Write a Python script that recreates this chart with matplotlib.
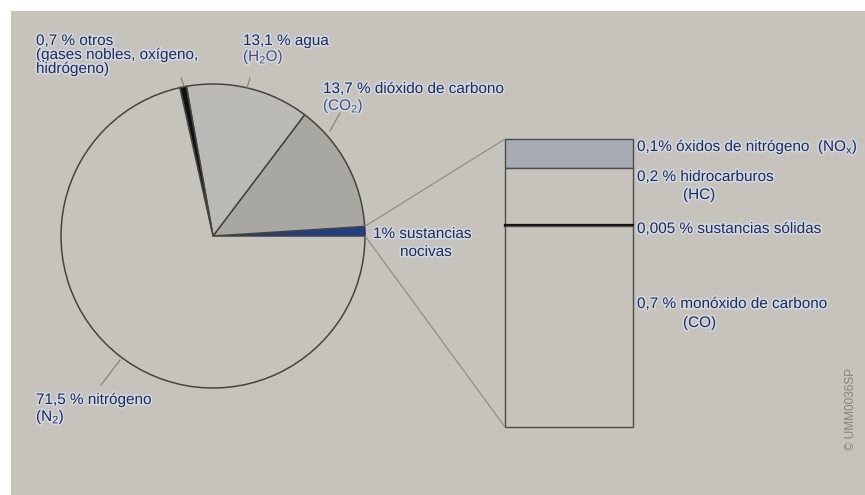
import matplotlib
matplotlib.use("Agg")
import matplotlib.pyplot as plt
import matplotlib.patheffects as pe
from matplotlib.patches import Rectangle, ConnectionPatch
import numpy as np

plt.rcParams["font.family"] = ["Liberation Sans", "DejaVu Sans"]
plt.rcParams["mathtext.fontset"] = "custom"
plt.rcParams["mathtext.rm"] = "Liberation Sans"
plt.rcParams["mathtext.it"] = "Liberation Sans:italic"
plt.rcParams["mathtext.bf"] = "Liberation Sans:bold"

# Composition of the exhaust gas (% by volume), counter-clockwise from 0 degrees
gas_names = ["sustancias nocivas", "dióxido de carbono", "agua", "otros", "nitrógeno"]
gas_shares = [1.0, 13.7, 13.1, 0.7, 71.5]
gas_colors = ["#203f86", "#a9a7a2", "#bbbab6", "#101010", "#c6c3bd"]

# Breakdown of the harmful 1 %, listed from top to bottom of the column
harm_names = ["óxidos de nitrógeno", "hidrocarburos", "sustancias sólidas", "monóxido de carbono"]
harm_shares = [0.1, 0.2, 0.005, 0.7]
harm_colors = ["#a6aab3", "#c6c3bd", "#111111", "#c6c3bd"]

BG = "#c6c3bd"
TXT = "#1d2b5e"
TXT2 = "#44527a"
W, H = 865, 495

fig = plt.figure(figsize=(W / 100, H / 100), dpi=100, facecolor="white")
ax = fig.add_axes([0, 0, 1, 1])
ax.set_facecolor("white")


def P(x, y):
    """Pixel position (top-left origin) -> data coordinates."""
    return x, H - y


# page background with the white scan margin on the top and left
ax.add_patch(Rectangle((11, 0), W - 11, H - 11, facecolor=BG, edgecolor="none", zorder=0))

center = P(213, 236)
radius = 152
wedges, _ = ax.pie(gas_shares, colors=gas_colors, startangle=0, counterclock=True,
                   center=center, radius=radius, frame=True,
                   wedgeprops=dict(edgecolor="#45443f", linewidth=1.1))
wedges[0].set_edgecolor("#1a2f66")
ax.set_xlim(0, W)
ax.set_ylim(0, H)
ax.set_aspect("equal")
ax.axis("off")

halo = [pe.withStroke(linewidth=2.2, foreground="#d3d9df")]
FS = 11.0


def label(x, y, s, color=TXT):
    """One text line; y is the baseline in pixels from the top."""
    ax.text(*P(x, y), s, ha="left", va="baseline", fontsize=FS, color=color,
            path_effects=halo, zorder=5)


def leader(p0, p1):
    (x0, y0), (x1, y1) = P(*p0), P(*p1)
    ax.plot([x0, x1], [y0, y1], color="#7d7c78", lw=0.8, zorder=3)


label(36, 45, "0,7 % otros")
label(36, 59, "(gases nobles, oxígeno,")
label(36, 73, "hidrógeno)")
leader((181, 78), (184, 86))

label(243, 45, "13,1 % agua")
label(243, 61, r"(H$_\mathrm{2}$O)", color=TXT2)
leader((250, 78), (247, 88))

label(323, 93, "13,7 % dióxido de carbono")
label(323, 110, r"(CO$_\mathrm{2}$)", color=TXT2)
leader((340, 113), (330, 131))

label(373, 238, "1% sustancias")
label(400, 256, "nocivas")

label(36, 404, "71,5 % nitrógeno")
label(36, 421, r"(N$_\mathrm{2}$)")
leader((120, 360), (101, 385))

# column with the breakdown of the harmful substances
bx0, by0, bx1, by1 = 505, 139, 633, 427
ax2 = fig.add_axes([bx0 / W, (H - by1) / H, (bx1 - bx0) / W, (by1 - by0) / H])
ax2.axis("off")
total = sum(harm_shares)
bottom = total
for share, col in zip(harm_shares, harm_colors):
    bottom -= share
    thin = share < 0.01
    ax2.bar(0, share, bottom=bottom, width=1.0, color=col,
            edgecolor="#111111" if thin else "#4d4c49",
            linewidth=1.6 if thin else 1.0, clip_on=False, zorder=2)
ax2.set_xlim(-0.5, 0.5)
ax2.set_ylim(0, total)

# connectors from the harmful wedge to the column
a0 = np.deg2rad(0)
a1 = np.deg2rad(gas_shares[0] / 100 * 360)
tip_hi = (center[0] + radius * np.cos(a1), center[1] + radius * np.sin(a1))
tip_lo = (center[0] + radius * np.cos(a0), center[1] + radius * np.sin(a0))
for tip, corner in ((tip_hi, (0, 1)), (tip_lo, (0, 0))):
    con = ConnectionPatch(xyA=tip, coordsA=ax.transData, xyB=corner, coordsB=ax2.transAxes,
                          color="#8a8985", lw=0.8, zorder=1)
    fig.add_artist(con)

label(637, 151, r"0,1% óxidos de nitrógeno  (NO$_\mathrm{x}$)")
label(637, 181, "0,2 % hidrocarburos")
label(683, 199, "(HC)")
label(637, 233, "0,005 % sustancias sólidas")
label(637, 308, "0,7 % monóxido de carbono")
label(683, 327, "(CO)")

ax.text(*P(851, 409), "© UMM0036SP", rotation=90, ha="center", va="center",
        fontsize=8.5, color="#85847f")

fig.savefig("out.png", dpi=100, facecolor="white")
